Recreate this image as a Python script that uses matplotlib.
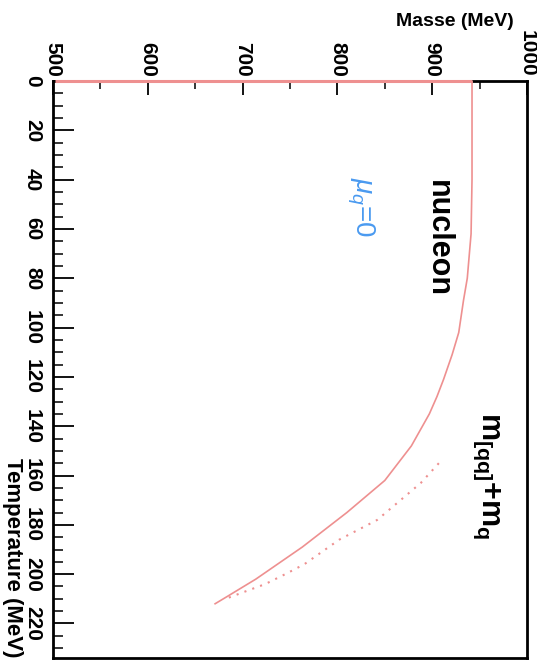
import numpy as np
import matplotlib.pyplot as plt
from matplotlib.ticker import MultipleLocator

plt.rcParams['font.family'] = ['Liberation Sans', 'DejaVu Sans']
plt.rcParams['mathtext.fontset'] = 'custom'
plt.rcParams['mathtext.rm'] = 'Liberation Sans'
plt.rcParams['mathtext.it'] = 'Liberation Sans:italic'
plt.rcParams['mathtext.bf'] = 'Liberation Sans:bold'

# nucleon mass vs temperature (solid)
t_nucleon = [0, 20, 40, 62, 80, 89, 102, 111, 121, 128, 135, 148, 162, 175, 189, 202, 209, 212]
m_nucleon = [942, 942, 942, 941, 937, 933, 928, 921, 912, 905, 897, 878, 850, 810, 763, 714, 684, 671]

# flat piece of the nucleon curve along T = 0
m_flat = [502, 942]
t_flat = [0, 0]

# diquark + quark mass sum (dotted)
t_sum = [155, 163, 178, 186, 196, 200, 204, 210]
m_sum = [907, 888, 842, 802, 765, 745, 724, 682]

mass_ticks = [500, 600, 700, 800, 900, 1000]
temp_ticks = list(range(0, 221, 20))

curve_color = '#ee9090'

fig = plt.figure(figsize=(5.37, 6.60), dpi=100)
ax = fig.add_axes([53 / 537, 2 / 660, 474 / 537, 577 / 660])

# axes are drawn turned: mass runs left to right along the top, temperature downwards
ax.plot(m_nucleon, t_nucleon, color=curve_color, lw=1.2, zorder=5)
ax.plot(m_flat, t_flat, color=curve_color, lw=2.2, clip_on=False, zorder=6,
        solid_capstyle='butt')
ax.plot(m_sum, t_sum, color=curve_color, lw=1.5, ls=(0, (1, 3)), zorder=5)

ax.set_xlim(500, 1000)
ax.set_ylim(234, 0)

ax.xaxis.tick_top()
ax.set_xticks(mass_ticks)
ax.xaxis.set_minor_locator(MultipleLocator(50))
ax.set_yticks(temp_ticks)
ax.yaxis.set_minor_locator(MultipleLocator(5))

ax.tick_params(axis='x', which='major', direction='in', length=10, width=1.3, pad=3,
               labelsize=15, top=True, bottom=False)
ax.tick_params(axis='x', which='minor', direction='in', length=6, width=1.1, top=True, bottom=False)
ax.tick_params(axis='y', which='major', direction='in', length=15, width=1.3, pad=8,
               labelsize=15, left=True, right=False)
ax.tick_params(axis='y', which='minor', direction='in', length=7, width=1.1, left=True, right=False)

for lab in ax.get_xticklabels():
    lab.set_rotation(-90)
    lab.set_va('bottom')
    lab.set_ha('center')
    lab.set_fontweight('bold')
for lab in ax.get_yticklabels():
    lab.set_rotation(-90)
    lab.set_va('center')
    lab.set_ha('right')
    lab.set_fontweight('bold')

for side in ['top', 'bottom', 'left', 'right']:
    ax.spines[side].set_linewidth(2)

fig.text(514 / 537, 1 - 21 / 660, 'Masse (MeV)', ha='right', va='center',
         fontsize=14, fontweight='bold')
fig.text(12 / 537, 1 - 658 / 660, 'Temperature (MeV)', rotation=-90, ha='center', va='bottom',
         fontsize=16, fontweight='bold')

ax.text(906, 64, 'nucleon', rotation=-90, ha='center', va='center', fontsize=22, fontweight='bold')
ax.text(957, 160, r'm$_{\mathbf{[qq]}}$+m$_{\mathbf{q}}$', rotation=-90, ha='center', va='center',
        fontsize=22, fontweight='bold')
ax.text(824, 51, r'$\mu_q$=0', rotation=-90, ha='center', va='center', fontsize=20,
        color='#4a9af0')

fig.savefig('out.png', dpi=100)
